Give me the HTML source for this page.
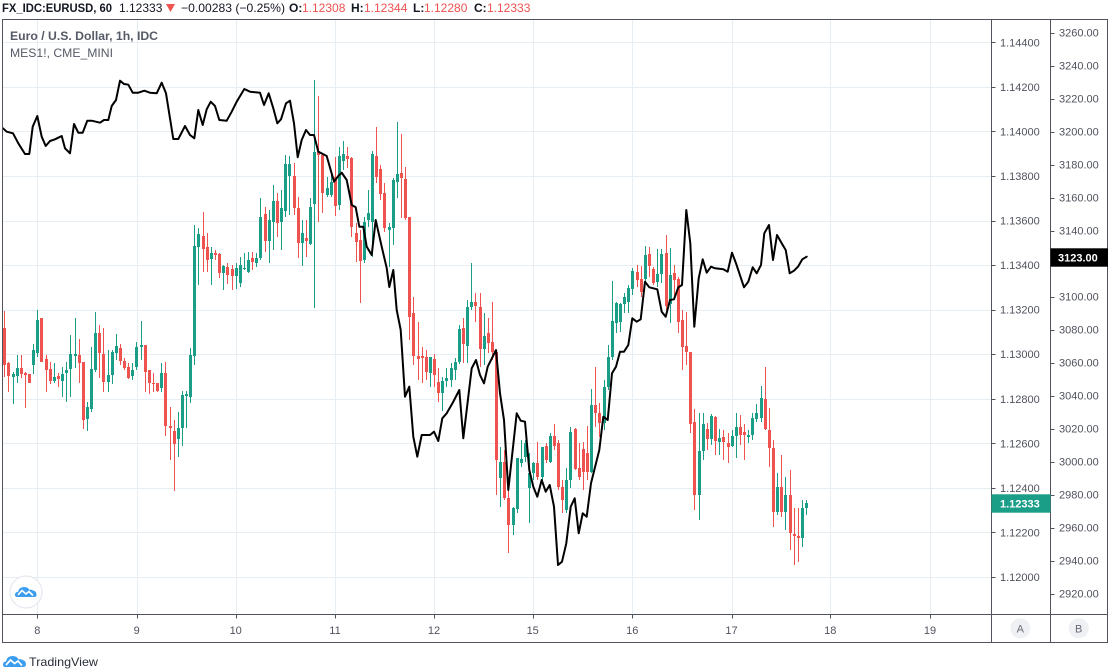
<!DOCTYPE html>
<html><head><meta charset="utf-8">
<style>
html,body{margin:0;padding:0;background:#fff;}
body{width:1112px;height:672px;overflow:hidden;}
svg{display:block;font-family:"Liberation Sans",sans-serif;}
</style></head><body>
<svg id="s" width="1112" height="672" xmlns="http://www.w3.org/2000/svg">
<rect x="0" y="0" width="1112" height="672" fill="#fff"/>
<!-- header -->
<g font-size="12" fill="#131722">
<text x="2" y="12" font-weight="bold" textLength="110" lengthAdjust="spacingAndGlyphs">FX_IDC:EURUSD, 60</text>
<text x="119" y="12">1.12333</text>
<polygon points="166,4 175,4 170.5,12" fill="#ef5350"/>
<text x="181" y="12" textLength="104" lengthAdjust="spacingAndGlyphs">−0.00283 (−0.25%)</text>
<text x="289" y="12" font-weight="bold">O:</text><text x="302" y="12" fill="#ef5350">1.12308</text>
<text x="351" y="12" font-weight="bold">H:</text><text x="364" y="12" fill="#ef5350">1.12344</text>
<text x="413" y="12" font-weight="bold">L:</text><text x="424" y="12" fill="#ef5350">1.12280</text>
<text x="474" y="12" font-weight="bold">C:</text><text x="487" y="12" fill="#ef5350">1.12333</text>
</g>
<!-- grid -->
<g id="grid" stroke="#e6edf3" stroke-width="1"></g>
<!-- legend -->
<text x="10" y="40" font-size="12" font-weight="bold" fill="#555a66" textLength="148" lengthAdjust="spacingAndGlyphs">Euro / U.S. Dollar, 1h, IDC</text>
<text x="10" y="57" font-size="12" fill="#555a66" textLength="103" lengthAdjust="spacingAndGlyphs">MES1!, CME_MINI</text>
<!-- candles -->
<g id="cand"></g>
<!-- MES line -->
<polyline fill="none" stroke="#000" stroke-width="2" stroke-linejoin="round" stroke-linecap="round" points="3,128.3 6.7,131.7 13,133.3 18.3,143.3 25,154 29.3,154 32.7,126.7 37.3,116 41.7,136.7 45.7,146 50,141 55,139.3 61.7,136 65,148.3 70,153.3 74,124 78.3,132.7 82.7,132.7 87.3,120.7 91.7,120.7 100,122.7 104,120 108.3,120 111.7,106 116,100 120,80.7 124,84 128.3,84.7 132.7,92.7 138.3,92.7 144.3,90.7 150,92.7 156.7,93.3 161.7,82.7 166,93.3 173.3,139 178.3,139 185,126 190,135 194.3,138.3 198.3,110 202.7,125 206.7,109.3 210.7,101.7 215,106 219.3,120 226.7,120.7 231.7,111.7 236.7,101.7 244.3,89 250,91.7 260,92.7 264,105 268.7,93.3 273.3,108.3 277.3,123.3 281,119.3 286,103.3 290,100.7 294,123.3 297.7,157.3 301.7,140 306,130 310,135 314,135 318.3,151.7 326.7,156 334,181.7 338.3,176 341.7,172.7 346.7,180 351.7,205 355.7,207.3 359.3,226.7 363.3,226.7 366.7,246.7 371.7,255 375.7,220 381.7,246.7 386.7,268 389.3,287 393.3,270 396.7,310 400.7,330 405,396.7 409.3,386.7 413.3,436.7 417.3,456.7 421.7,435 430,435 434,431.7 438.3,441 442.3,418.3 446.7,413.3 453.3,401.7 459.3,390 463.3,438.3 466.7,410 471.7,368.3 476,360 480,375 484,383.3 487.7,366.7 492.7,356.7 496,350 500,393.3 504,420 508.3,490 512.7,450 516.7,413.3 520.7,420.7 525,421.7 529.3,470 533.3,486.7 537.3,496.7 541.7,480 545.7,491.7 549.7,485 554,506.7 558,565 562,561.7 566.3,543.3 570.7,506.7 574.7,498.3 578.7,533.3 582.7,513.3 586.7,516.7 591,483.3 599.3,450 603.3,416.7 607.7,420 612,373.3 616,366.7 620,351.7 624,351.7 628.3,345 632.3,318.3 636.7,321.7 640.7,319.3 645,281.7 649.3,287.3 653.3,288.3 657.3,289.3 661.7,311.7 665.7,316.7 670,300 674,299.3 678.3,287.3 682,285 686.3,210 690.3,243.3 694.3,326.7 698.7,278.3 702.7,259.3 706.7,272.7 711,266.7 715,268.3 723.3,269.3 727.7,271.7 732,252.7 736,263.3 744,287.3 748.3,281.7 752.7,267.3 756.7,273.3 761,265 764.3,233.3 769,225 773,260 777,235 781.7,243.3 785.7,250 789.7,273.3 794,270.7 798,266.7 802.3,259.3 806.7,256.7"/>
<!-- plot logo -->
<circle cx="26" cy="592" r="16" fill="#fff" stroke="#e0e3eb" stroke-width="1"/>
<g transform="translate(15,584)">
<path d="M2,13 Q0,13 0,10.5 Q0,8 3,8 Q4,3 9,3 Q13,3 14.5,6 Q16,5 18,6.5 Q21,7 21.5,10 Q22,13 19,13 Z" fill="#3a9df0"/>
<polyline points="3,11 7,6.5 11,10 14,7.5 18,11.5" fill="none" stroke="#fff" stroke-width="1.6"/>
</g>
<!-- frame -->
<g stroke="#50535e" stroke-width="1" fill="none">
<rect x="2.5" y="19.5" width="1105" height="623"/>
<line x1="2" y1="614.5" x2="1108" y2="614.5"/>
<line x1="991.5" y1="19" x2="991.5" y2="643"/>
<line x1="1050.5" y1="19" x2="1050.5" y2="643"/>
</g>
<g id="axes" font-size="11" fill="#50535e"></g>
<!-- price labels -->
<rect x="991.5" y="494.3" width="59" height="18.4" fill="#1a9e88"/>
<text x="1000" y="507.5" font-size="11" font-weight="bold" fill="#fff">1.12333</text>
<rect x="1050.5" y="248.3" width="57.5" height="18.4" fill="#000"/>
<text x="1058" y="261.5" font-size="11" font-weight="bold" fill="#fff">3123.00</text>
<!-- A B buttons -->
<circle cx="1020.3" cy="628.3" r="10" fill="#eef0f4"/>
<text x="1020.3" y="632.3" font-size="11" fill="#6a6d78" text-anchor="middle">A</text>
<circle cx="1078.7" cy="628.3" r="10" fill="#eef0f4"/>
<text x="1078.7" y="632.3" font-size="11" fill="#6a6d78" text-anchor="middle">B</text>
<!-- footer -->
<g transform="translate(3,653)">
<path d="M2,14 Q0,14 0,11.5 Q0,8.5 3,8.5 Q4,3 9.5,3 Q14,3 15.5,6.5 Q17.5,5.5 19.5,7 Q22.5,7.5 23,11 Q23,14 20,14 Z" fill="#3a9df0"/>
<polyline points="3,12 7.5,7 11.5,10.5 15,8 19,12.5" fill="none" stroke="#fff" stroke-width="1.7"/>
</g>
<text x="29" y="666" font-size="12" fill="#2a2e39" textLength="69" lengthAdjust="spacingAndGlyphs">TradingView</text>
</svg>
<script>
(function(){
var NS="http://www.w3.org/2000/svg";
function el(p,t,a,txt){var e=document.createElementNS(NS,t);for(var k in a)e.setAttribute(k,a[k]);if(txt!==undefined)e.textContent=txt;p.appendChild(e);return e;}
var grid=document.getElementById('grid');
var vx=[37.3,136.7,235.7,335,434,532.7,632.3,731.5,830.3,930];
var vl=['8','9','10','11','12','15','16','17','18','19'];
var i;
for(i=0;i<vx.length;i++){var x=Math.round(vx[i])+0.5;el(grid,'line',{x1:x,y1:20,x2:x,y2:614});}
var pa=['1.14400','1.14200','1.14000','1.13800','1.13600','1.13400','1.13200','1.13000','1.12800','1.12600','1.12400','1.12200','1.12000'];
for(i=0;i<pa.length;i++){var y=Math.round(42.3+i*44.56)+0.5;el(grid,'line',{x1:3,y1:y,x2:991,y2:y});}
var ax=document.getElementById('axes');
for(i=0;i<pa.length;i++){var y=42.3+i*44.56;el(ax,'line',{x1:991.5,y1:Math.round(y)+0.5,x2:995.5,y2:Math.round(y)+0.5,stroke:'#50535e'});el(ax,'text',{x:1000,y:(y+4).toFixed(1)},pa[i]);}
for(i=0;i<=17;i++){var v=3260-20*i;var y=32.5+(3260-v)*1.6505;el(ax,'line',{x1:1050.5,y1:Math.round(y)+0.5,x2:1054.5,y2:Math.round(y)+0.5,stroke:'#50535e'});if(v!==3120)el(ax,'text',{x:1059,y:(y+4).toFixed(1)},v+'.00');}
for(i=0;i<vx.length;i++){var x=Math.round(vx[i])+0.5;el(ax,'line',{x1:x,y1:614.5,x2:x,y2:618.5,stroke:'#50535e'});el(ax,'text',{x:vx[i],y:634,'text-anchor':'middle'},vl[i]);}
var D=[
[1,328,365,311,377],[1,363,376,362,392],[0,374,377,372,404],[0,368,376,355,383],[1,368,374,355,378],[1,373,375,372,408],[1,374,383,374,383],[0,350,365,344,374],[0,320,353,310,357],[1,318,362,318,362],
[1,359,370,355,392],[1,369,381,362,384],[0,377,381,363,383],[1,376,379,373,387],[0,374,381,367,397],[0,370,373,362,402],[0,354,369,335,397],[0,354,356,318,368],[1,355,363,339,383],[1,362,420,362,429],
[0,407,419,402,431],[0,369,409,347,412],[0,333,370,312,372],[1,333,353,325,378],[1,354,382,328,392],[0,375,382,350,392],[0,352,375,350,384],[0,346,353,334,360],[1,348,361,344,365],[1,361,368,358,370],
[1,367,378,363,379],[0,370,376,363,380],[0,347,367,342,370],[0,345,347,321,360],[1,345,372,345,392],[1,370,383,370,394],[1,383,384,373,392],[1,383,391,383,392],[0,373,388,363,392],[1,373,426,362,436],
[1,426,428,407,460],[1,431,444,420,491],[0,428,439,412,457],[0,395,428,391,446],[0,394,396,391,428],[0,355,397,348,403],[0,246,356,225,365],[0,234,247,228,285],[1,236,249,212,272],[1,247,260,233,272],
[0,253,259,247,285],[1,253,255,250,260],[1,254,273,253,278],[0,266,273,265,290],[1,267,275,263,284],[1,269,276,265,290],[0,268,276,263,289],[0,265,283,257,287],[0,268,269,253,270],[0,260,272,252,273],
[1,258,262,252,270],[0,258,263,253,267],[0,217,258,198,260],[1,214,241,207,252],[0,220,241,210,263],[0,201,222,185,250],[1,201,223,193,237],[0,208,222,190,250],[0,164,211,155,217],[0,164,176,156,215],
[1,176,208,163,215],[1,208,243,197,258],[0,233,243,220,266],[1,238,241,220,257],[0,207,244,198,245],[0,152,204,80,308],[1,151,155,96,222],[1,155,193,153,213],[0,188,195,177,197],[0,182,195,172,197],
[1,177,206,157,216],[0,156,205,147,210],[0,154,161,141,170],[1,156,159,147,168],[1,158,227,157,237],[1,233,242,223,262],[1,240,261,230,303],[0,222,260,217,263],[0,213,220,190,227],[0,154,222,151,257],
[1,156,177,127,183],[1,169,194,165,200],[1,193,228,183,232],[0,227,230,223,267],[0,180,228,178,245],[0,174,182,122,198],[1,173,178,134,218],[1,179,218,167,220],[1,217,317,217,340],[1,313,356,297,365],
[1,356,359,322,380],[1,356,358,347,383],[1,357,372,350,380],[0,357,373,357,387],[1,359,375,354,387],[1,382,393,368,402],[0,381,393,377,411],[0,378,381,368,387],[0,368,380,363,387],[0,362,370,358,380],
[0,329,362,325,364],[1,328,344,318,363],[0,307,346,300,363],[0,302,307,263,310],[1,302,306,293,322],[1,307,349,293,367],[0,336,349,313,365],[1,333,343,318,353],[1,342,352,302,360],[1,352,460,350,495],
[0,462,478,447,507],[1,462,498,450,500],[1,498,525,483,553],[0,508,525,507,535],[0,458,509,458,513],[0,459,463,440,467],[0,443,457,440,462],[0,473,488,453,523],[0,463,473,462,480],[1,463,477,442,480],
[0,447,477,447,480],[1,446,460,443,463],[0,436,462,433,463],[1,436,446,424,450],[1,443,487,440,490],[1,487,500,480,513],[0,480,510,468,513],[0,432,480,427,488],[1,429,469,428,470],[1,468,477,443,480],
[1,449,472,442,490],[1,453,472,426,480],[0,405,472,389,473],[1,405,413,367,427],[1,413,423,403,437],[0,387,423,380,430],[0,357,387,345,390],[0,321,357,281,360],[0,303,323,302,333],[0,304,322,303,332],
[0,297,304,293,313],[0,288,302,285,313],[0,271,289,268,295],[1,272,280,265,287],[1,279,292,266,297],[0,255,279,246,283],[1,254,266,247,277],[1,269,283,267,285],[0,274,282,249,287],[0,254,274,249,283],
[1,253,306,235,310],[0,275,304,248,323],[1,273,280,265,300],[1,279,322,277,333],[1,320,347,310,370],[1,346,352,312,365],[1,352,424,352,433],[1,422,495,409,510],[0,451,495,413,520],[0,424,451,413,460],
[1,429,439,423,450],[0,416,439,414,445],[1,417,441,416,455],[0,438,442,429,455],[1,437,442,430,460],[1,443,447,433,463],[0,436,446,430,447],[0,427,436,413,458],[1,427,435,415,445],[1,432,435,424,460],
[0,435,437,430,443],[0,418,435,413,440],[0,413,419,404,422],[0,398,418,386,422],[1,399,429,367,430],[1,430,448,408,467],[1,448,512,440,527],[0,487,512,473,515],[1,487,512,455,517],[0,495,512,477,530],
[1,495,533,470,550],[1,534,536,508,565],[1,536,538,508,562],[0,508,538,500,547],[0,503,508,500,515]
];
var wr='',wg='',br='',bg='';
for(i=0;i<D.length;i++){var d=D[i];var x=Math.round(4.24+4.133*i);
var w='M'+(x+0.5)+' '+d[3]+'V'+d[4];
var h=Math.max(1,d[2]-d[1]);
var b='M'+(x-1)+' '+d[1]+'h3v'+h+'h-3Z';
if(d[0]){wr+=w;br+=b;}else{wg+=w;bg+=b;}}
var c=document.getElementById('cand');
el(c,'path',{d:wg,stroke:'#1a9e88','stroke-width':1,fill:'none'});
el(c,'path',{d:wr,stroke:'#ef5350','stroke-width':1,fill:'none'});
el(c,'path',{d:bg,fill:'#1a9e88'});
el(c,'path',{d:br,fill:'#ef5350'});
})();
</script>
</body></html>
